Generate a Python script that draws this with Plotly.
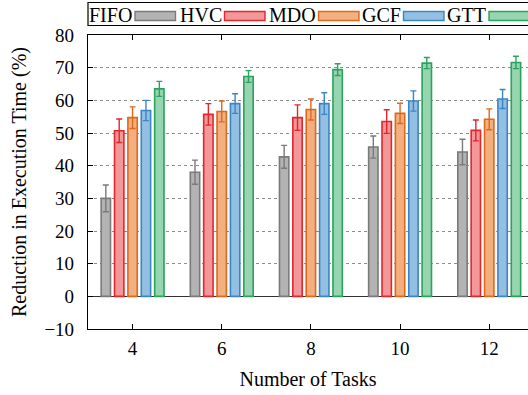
import plotly.graph_objects as go

# Number of tasks on the x axis
tasks = [4, 6, 8, 10, 12]

# Scheduler names
series = ["FIFO", "HVC", "MDO", "GCF", "GTT"]

# Mean reduction in execution time (%) per scheduler
fifo = [30.0, 38.0, 42.7, 45.7, 44.2]
hvc = [50.7, 55.7, 54.7, 53.5, 50.8]
mdo = [54.7, 56.6, 57.2, 56.0, 54.2]
gcf = [56.9, 59.0, 59.0, 59.8, 60.4]
gtt = [63.5, 67.3, 69.4, 71.4, 71.6]

# Error bar half-widths (%)
fifo_err = [4.1, 3.7, 3.5, 3.4, 3.9]
hvc_err = [3.6, 3.3, 3.9, 3.6, 3.2]
mdo_err = [3.3, 3.2, 3.2, 3.1, 3.2]
gcf_err = [3.1, 3.0, 3.3, 3.1, 2.9]
gtt_err = [2.3, 1.8, 1.8, 1.7, 1.9]

values = [fifo, hvc, mdo, gcf, gtt]
errors = [fifo_err, hvc_err, mdo_err, gcf_err, gtt_err]

fills = ["#b3b3b3", "#f2979a", "#f2b081", "#93bfe2", "#97d4b0"]
edges = ["#7a7a7a", "#e2262b", "#e0681a", "#3a86c4", "#2ba25d"]

FONT = "Liberation Serif"

# plot-area geometry in pixels (used to place the hand-built key)
L, R, T, B = 88, 528, 35, 329
W, H = R - L, B - T


def px_x(p):
    return (p - L) / W


def px_y(p):
    return (B - p) / H


fig = go.Figure()

bar_w = 0.21
step = 0.3
for i, (name, ys, es) in enumerate(zip(series, values, errors)):
    fig.add_trace(go.Bar(
        x=tasks,
        y=ys,
        name=name,
        width=bar_w,
        offset=(i - 2) * step - bar_w / 2,
        marker=dict(color=fills[i], line=dict(color=edges[i], width=1.6)),
        error_y=dict(type="data", array=es, visible=True,
                     color=edges[i], thickness=1.4, width=3),
        showlegend=False,
    ))

# key drawn across the top, label followed by a swatch
shapes = [dict(type="rect", xref="paper", yref="paper",
               x0=px_x(88), x1=px_x(540), y0=px_y(25.5), y1=px_y(2.5),
               line=dict(color="black", width=1.2), fillcolor="white")]
annotations = []
swatch_left = [135, 224.5, 318.5, 403.5, 489]
for i, name in enumerate(series):
    x0 = swatch_left[i]
    shapes.append(dict(type="rect", xref="paper", yref="paper",
                       x0=px_x(x0), x1=px_x(x0 + 40.5),
                       y0=px_y(20.5), y1=px_y(11.5),
                       fillcolor=fills[i],
                       line=dict(color=edges[i], width=1.4)))
    annotations.append(dict(xref="paper", yref="paper",
                            x=px_x(x0 - 1), y=px_y(15.5),
                            text=name, showarrow=False,
                            xanchor="right", yanchor="middle",
                            font=dict(family=FONT, size=20, color="black")))

fig.update_layout(
    width=528, height=395,
    margin=dict(l=L, r=0, t=T, b=395 - B),
    paper_bgcolor="white", plot_bgcolor="white",
    barmode="overlay",
    font=dict(family=FONT, size=19, color="black"),
    shapes=shapes,
    annotations=annotations,
)

fig.update_xaxes(
    range=[3, 12.87],
    tickvals=tasks,
    ticktext=[str(t) for t in tasks],
    ticks="inside", ticklen=5, tickcolor="black",
    showline=True, linecolor="black", linewidth=1.2, mirror="ticks",
    showgrid=False, zeroline=False,
    tickfont=dict(family=FONT, size=19),
    ticklabelstandoff=2,
    title=dict(text="Number of Tasks", font=dict(family=FONT, size=20), standoff=14),
)

fig.update_yaxes(
    range=[-10, 80],
    dtick=10,
    ticks="inside", ticklen=5, tickcolor="black",
    showline=True, linecolor="black", linewidth=1.2,
    showgrid=True, gridcolor="#8c8c8c", griddash="dot", gridwidth=1,
    zeroline=True, zerolinecolor="#333333", zerolinewidth=1.2,
    tickfont=dict(family=FONT, size=19),
    ticklabelstandoff=9,
    title=dict(text="Reduction in Execution Time (%)", font=dict(family=FONT, size=20), standoff=12),
)

fig.write_html("out.html")
